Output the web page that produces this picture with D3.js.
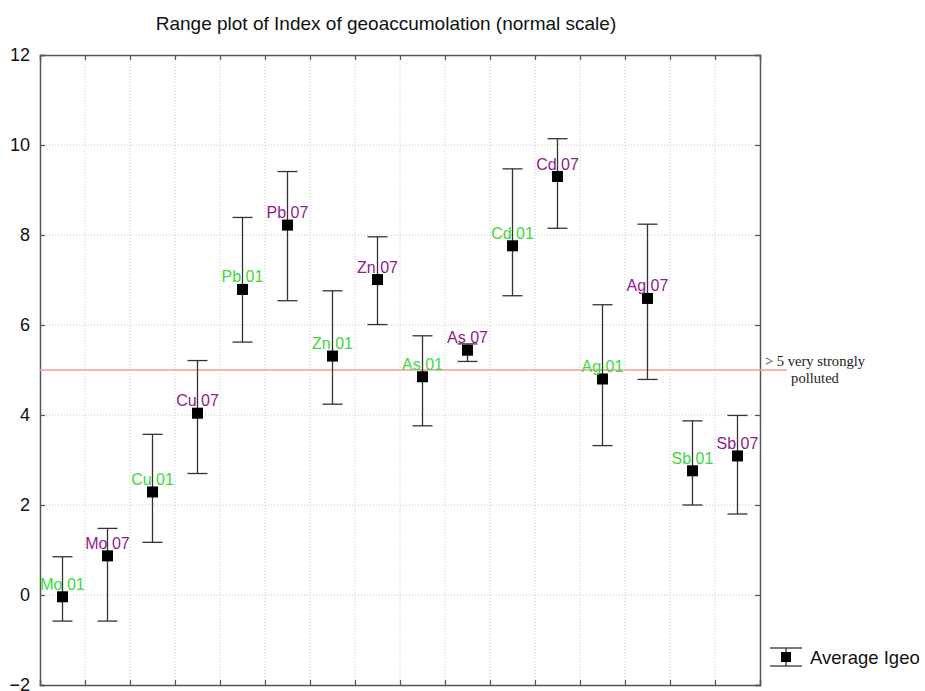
<!DOCTYPE html>
<html>
<head>
<meta charset="utf-8">
<script src="https://cdn.jsdelivr.net/npm/d3@7"></script>
<style>
  body { margin: 0; background: #fff; }
  svg { font-family: Arial, "Liberation Sans", sans-serif; }
</style>
</head>
<body>
<div id="chart"></div>
<script>
// data
const labels = ['Mo 01', 'Mo 07', 'Cu 01', 'Cu 07', 'Pb 01', 'Pb 07', 'Zn 01', 'Zn 07',
  'As 01', 'As 07', 'Cd 01', 'Cd 07', 'Ag 01', 'Ag 07', 'Sb 01', 'Sb 07'];
const avgIgeo = [-0.04, 0.87, 2.29, 4.04, 6.79, 8.22, 5.31, 7.01, 4.85, 5.44, 7.76, 9.3, 4.8, 6.59, 2.76, 3.09];
const maxIgeo = [0.85, 1.48, 3.57, 5.21, 8.39, 9.41, 6.76, 7.96, 5.76, 5.58, 9.47, 10.14, 6.45, 8.24, 3.87, 3.99];
const minIgeo = [-0.58, -0.58, 1.17, 2.7, 5.62, 6.54, 4.24, 6.01, 3.76, 5.19, 6.65, 8.15, 3.32, 4.79, 2.0, 1.8];
const yTicks = [-2, 0, 2, 4, 6, 8, 10, 12];
const threshold = 5;

const width = 925, height = 691;
const plotL = 40, plotR = 760, plotT = 55, plotB = 685;

const svg = d3.select('#chart').append('svg')
  .attr('width', width)
  .attr('height', height);

const x = d3.scaleBand().domain(labels).range([plotL, plotR]);
const y = d3.scaleLinear().domain([-2, 12]).range([plotB, plotT]);

const rows = labels.map((l, i) => ({ label: l, avg: avgIgeo[i], hi: maxIgeo[i], lo: minIgeo[i] }));

// grid
const bounds = labels.slice(1).map(l => x(l));
svg.append('g').selectAll('line')
  .data(bounds)
  .enter().append('line')
    .attr('x1', d => d).attr('x2', d => d)
    .attr('y1', plotT).attr('y2', plotB)
    .attr('stroke', '#c8c8c8').attr('stroke-dasharray', '1,2');
svg.append('g').selectAll('line')
  .data(yTicks.slice(1, -1))
  .enter().append('line')
    .attr('x1', plotL).attr('x2', plotR)
    .attr('y1', d => y(d)).attr('y2', d => y(d))
    .attr('stroke', '#c8c8c8').attr('stroke-dasharray', '1,2');

// axes: inward ticks on all four sides
const axisColor = '#555';
const yAxis = svg.append('g').attr('transform', `translate(${plotL},0)`)
  .call(d3.axisLeft(y).tickValues(yTicks).tickSize(-5).tickPadding(10));
const yAxisR = svg.append('g').attr('transform', `translate(${plotR},0)`)
  .call(d3.axisRight(y).tickValues(yTicks).tickSize(-5).tickFormat(''));
const xb = d3.scaleLinear().domain([plotL, plotR]).range([plotL, plotR]);
const xAxisB = svg.append('g').attr('transform', `translate(0,${plotB})`)
  .call(d3.axisBottom(xb).tickValues(bounds).tickSize(-5).tickFormat(''));
const xAxisT = svg.append('g').attr('transform', `translate(0,${plotT})`)
  .call(d3.axisTop(xb).tickValues(bounds).tickSize(-5).tickFormat(''));

[yAxis, yAxisR, xAxisB, xAxisT].forEach(g => {
  g.select('.domain').attr('stroke', axisColor).attr('stroke-width', 1.5);
  g.selectAll('.tick line').attr('stroke', axisColor).attr('stroke-width', 1.2);
});
yAxis.selectAll('text')
  .attr('font-size', 18)
  .attr('font-family', 'Arial, "Liberation Sans", sans-serif')
  .attr('fill', '#111');

// threshold line
svg.append('line')
  .attr('x1', plotL).attr('x2', 787)
  .attr('y1', y(threshold)).attr('y2', y(threshold))
  .attr('stroke', '#f29a9a').attr('stroke-width', 1.5);

svg.append('text')
  .attr('x', 815).attr('y', y(threshold) - 4)
  .attr('text-anchor', 'middle')
  .attr('font-family', '"Liberation Serif", "Times New Roman", serif')
  .attr('font-size', 14.6)
  .attr('fill', '#222')
  .text('> 5 very strongly');
svg.append('text')
  .attr('x', 815).attr('y', y(threshold) + 13)
  .attr('text-anchor', 'middle')
  .attr('font-family', '"Liberation Serif", "Times New Roman", serif')
  .attr('font-size', 14.6)
  .attr('fill', '#222')
  .text('polluted');

// range bars
const cx = d => x(d.label) + x.bandwidth() / 2;
const bars = svg.append('g').selectAll('g')
  .data(rows)
  .enter().append('g');
bars.append('line')
  .attr('x1', cx).attr('x2', cx)
  .attr('y1', d => y(d.hi)).attr('y2', d => y(d.lo))
  .attr('stroke', '#333').attr('stroke-width', 1.3);
bars.append('line')
  .attr('x1', d => cx(d) - 10).attr('x2', d => cx(d) + 10)
  .attr('y1', d => y(d.hi)).attr('y2', d => y(d.hi))
  .attr('stroke', '#333').attr('stroke-width', 1.3);
bars.append('line')
  .attr('x1', d => cx(d) - 10).attr('x2', d => cx(d) + 10)
  .attr('y1', d => y(d.lo)).attr('y2', d => y(d.lo))
  .attr('stroke', '#333').attr('stroke-width', 1.3);
bars.append('rect')
  .attr('x', d => cx(d) - 5.5).attr('y', d => y(d.avg) - 5.5)
  .attr('width', 11).attr('height', 11)
  .attr('fill', '#000');
bars.append('text')
  .attr('x', cx)
  .attr('y', d => y(d.avg) - 7)
  .attr('text-anchor', 'middle')
  .attr('font-size', 16)
  .attr('fill', d => d.label.endsWith('01') ? '#3cd83c' : '#8e1a8e')
  .text(d => d.label);

// title
svg.append('text')
  .attr('x', 386).attr('y', 30)
  .attr('text-anchor', 'middle')
  .attr('font-size', 19)
  .attr('fill', '#111')
  .text('Range plot of Index of geoaccumolation (normal scale)');

// legend
const lg = svg.append('g').attr('transform', 'translate(786,657)');
lg.append('line').attr('x1', -16).attr('x2', 16).attr('y1', -9).attr('y2', -9).attr('stroke', '#333').attr('stroke-width', 1.3);
lg.append('line').attr('x1', -16).attr('x2', 16).attr('y1', 9).attr('y2', 9).attr('stroke', '#333').attr('stroke-width', 1.3);
lg.append('line').attr('x1', 0).attr('x2', 0).attr('y1', -9).attr('y2', 9).attr('stroke', '#333').attr('stroke-width', 1.3);
lg.append('rect').attr('x', -5).attr('y', -5).attr('width', 10).attr('height', 10).attr('fill', '#000');
lg.append('text').attr('x', 24).attr('y', 7).attr('font-size', 18.5).attr('fill', '#111').text('Average Igeo');
</script>
</body>
</html>
